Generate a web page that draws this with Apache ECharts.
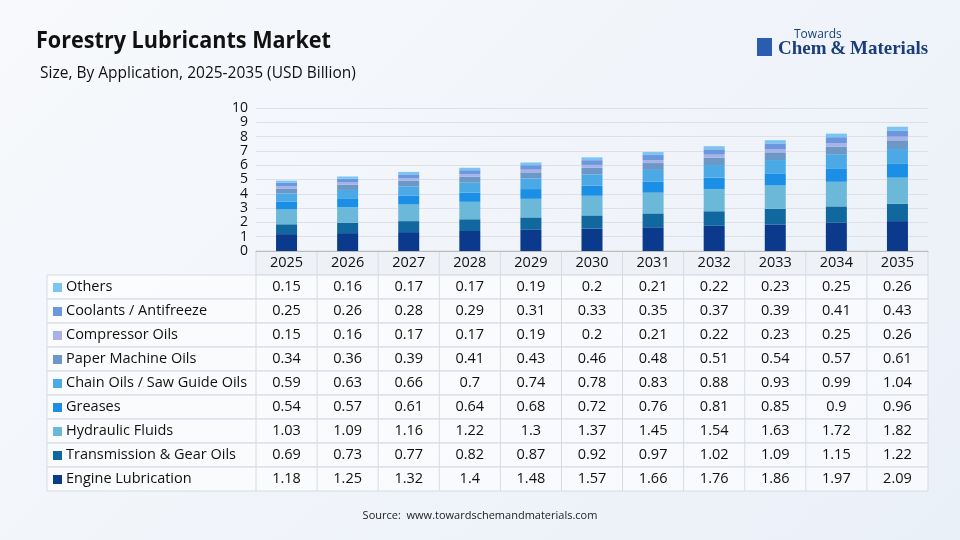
<!DOCTYPE html>
<html><head><meta charset="utf-8">
<script src="https://cdn.jsdelivr.net/npm/echarts@6/dist/echarts.min.js"></script>
<style>html,body{margin:0;padding:0;}#c{width:960px;height:540px;background:linear-gradient(135deg,#f7f9fc,#eaf0f8);}</style>
</head><body><div id="c"></div>
<script>
const years = ['2025','2026','2027','2028','2029','2030','2031','2032','2033','2034','2035'];
const engine = [1.18,1.25,1.32,1.4,1.48,1.57,1.66,1.76,1.86,1.97,2.09];
const transmission = [0.69,0.73,0.77,0.82,0.87,0.92,0.97,1.02,1.09,1.15,1.22];
const hydraulic = [1.03,1.09,1.16,1.22,1.3,1.37,1.45,1.54,1.63,1.72,1.82];
const greases = [0.54,0.57,0.61,0.64,0.68,0.72,0.76,0.81,0.85,0.9,0.96];
const chain = [0.59,0.63,0.66,0.7,0.74,0.78,0.83,0.88,0.93,0.99,1.04];
const paper = [0.34,0.36,0.39,0.41,0.43,0.46,0.48,0.51,0.54,0.57,0.61];
const compressor = [0.15,0.16,0.17,0.17,0.19,0.2,0.21,0.22,0.23,0.25,0.26];
const coolants = [0.25,0.26,0.28,0.29,0.31,0.33,0.35,0.37,0.39,0.41,0.43];
const others = [0.15,0.16,0.17,0.17,0.19,0.2,0.21,0.22,0.23,0.25,0.26];
const yTicks = [0,1,2,3,4,5,6,7,8,9,10];

const seriesDefs = [
 ['Engine Lubrication', engine, '#0b3a8c'],
 ['Transmission & Gear Oils', transmission, '#10689e'],
 ['Hydraulic Fluids', hydraulic, '#6cb8d8'],
 ['Greases', greases, '#1b8fe6'],
 ['Chain Oils / Saw Guide Oils', chain, '#4ba9e6'],
 ['Paper Machine Oils', paper, '#6b98c6'],
 ['Compressor Oils', compressor, '#a9b1e6'],
 ['Coolants / Antifreeze', coolants, '#6a97de'],
 ['Others', others, '#7cc5f0']
];
const chart = echarts.init(document.getElementById('c'));
const gl=256, gr=928, colW=(gr-gl)/years.length, rowH=24, tTop=251, tLeft=47;
const g=[];
const line='#d6dbe3';
g.push({type:'rect',shape:{x:gl,y:tTop,width:gr-gl,height:rowH},style:{fill:'#eef2f7',stroke:line}});
years.forEach((y,i)=>g.push({type:'text',style:{text:y,x:gl+colW*(i+0.5),y:tTop+rowH/2,align:'center',verticalAlign:'middle',font:'14.5px "Open Sans"',fill:'#111'}}));
const rows = seriesDefs.slice().reverse();
rows.forEach((s,r)=>{
 const y0=tTop+rowH*(r+1);
 g.push({type:'rect',shape:{x:tLeft,y:y0,width:gr-tLeft,height:rowH},style:{fill:'rgba(255,255,255,0.6)',stroke:line}});
 g.push({type:'line',shape:{x1:gl,y1:y0,x2:gl,y2:y0+rowH},style:{stroke:line}});
 g.push({type:'rect',shape:{x:tLeft+6,y:y0+rowH/2-4,width:9,height:9},style:{fill:s[2]}});
 g.push({type:'text',style:{text:s[0],x:tLeft+19,y:y0+rowH/2,verticalAlign:'middle',font:'14.5px "Open Sans"',fill:'#111'}});
 s[1].forEach((v,i)=>{
  if(i>0) g.push({type:'line',shape:{x1:gl+colW*i,y1:y0,x2:gl+colW*i,y2:y0+rowH},style:{stroke:line}});
  g.push({type:'text',style:{text:String(v),x:gl+colW*(i+0.5),y:y0+rowH/2,align:'center',verticalAlign:'middle',font:'14.5px "Open Sans"',fill:'#111'}});
 });
});
for(let i=1;i<years.length;i++) g.push({type:'line',shape:{x1:gl+colW*i,y1:tTop,x2:gl+colW*i,y2:tTop+rowH},style:{stroke:line}});
g.push({type:'text',style:{text:'Forestry Lubricants Market',x:40,y:29,font:'bold 24px "Open Sans"',fill:'#111'},scaleX:0.9});
g.push({type:'text',style:{text:'Size, By Application, 2025-2035 (USD Billion)',x:40,y:66,font:'15.5px "Open Sans"',fill:'#111'}});
g.push({type:'text',style:{text:'Source:  www.towardschemandmaterials.com',x:480,y:510,align:'center',font:'11px "Open Sans"',fill:'#222'}});
g.push({type:'text',style:{text:'Towards',x:794,y:29,font:'12px "Open Sans"',fill:'#1b3e7a'}});
g.push({type:'text',style:{text:'Chem\u2009&\u2009Materials',x:778,y:40,font:'bold 19px "Liberation Serif"',fill:'#1b3e7a'}});
g.push({type:'rect',shape:{x:757,y:38,width:15,height:18},style:{fill:'#2a5db0'}});

chart.setOption({
 animation:false,
 grid:{left:gl,right:960-gr,top:108,bottom:540-tTop},
 xAxis:{type:'category',data:years,axisLabel:{show:false},axisTick:{show:false},axisLine:{lineStyle:{color:'#bbb'}}},
 yAxis:{type:'value',min:0,max:10,interval:1,axisLabel:{color:'#111',fontSize:14,fontFamily:'Open Sans',formatter:v=>yTicks.includes(v)?String(v):''},splitLine:{lineStyle:{color:'#dde1e7'}}},
 series:seriesDefs.map(s=>({name:s[0],type:'bar',stack:'a',data:s[1],barWidth:21,itemStyle:{color:s[2]}})),
 graphic:g
});
</script></body></html>
